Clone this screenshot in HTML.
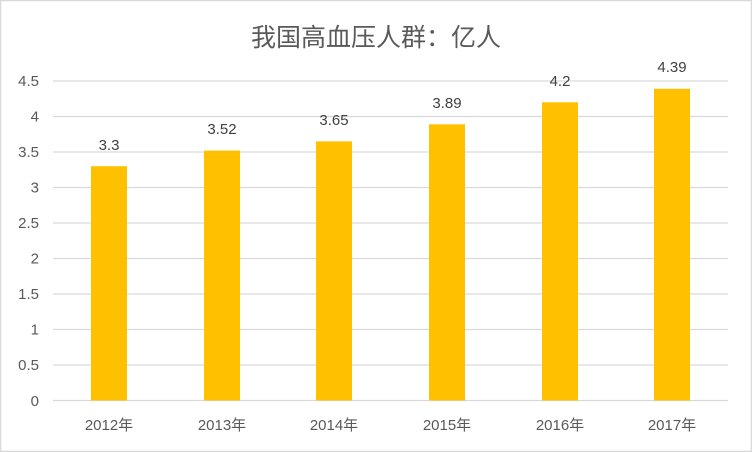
<!DOCTYPE html>
<html><head><meta charset="utf-8"><style>
html,body{margin:0;padding:0;background:#fff}
svg{display:block}
text{font-family:"Liberation Sans","Noto Sans CJK SC",sans-serif}
</style></head><body>
<svg width="752" height="452" xmlns="http://www.w3.org/2000/svg">
<rect x="0.5" y="0.5" width="751" height="451" fill="#fff" stroke="#d9d9d9" stroke-width="1.5"/>
<text x="376" y="46" text-anchor="middle" font-size="25" fill="#595959">我国高血压人群：亿人</text>
<g stroke="#d9d9d9" stroke-width="1.3">
<line x1="53" x2="728" y1="81" y2="81"/>
<line x1="53" x2="728" y1="116.5" y2="116.5"/>
<line x1="53" x2="728" y1="152" y2="152"/>
<line x1="53" x2="728" y1="187.5" y2="187.5"/>
<line x1="53" x2="728" y1="223" y2="223"/>
<line x1="53" x2="728" y1="258.5" y2="258.5"/>
<line x1="53" x2="728" y1="294" y2="294"/>
<line x1="53" x2="728" y1="329.5" y2="329.5"/>
<line x1="53" x2="728" y1="365" y2="365"/>
<line x1="53" x2="728" y1="400.5" y2="400.5"/>
</g>
<g font-size="15" fill="#595959" text-anchor="end">
<text x="39" y="86">4.5</text><text x="39" y="121.5">4</text><text x="39" y="157">3.5</text>
<text x="39" y="192.5">3</text><text x="39" y="228">2.5</text><text x="39" y="263.5">2</text>
<text x="39" y="299">1.5</text><text x="39" y="334.5">1</text><text x="39" y="370">0.5</text>
<text x="39" y="406">0</text>
</g>
<g fill="#ffc000">
<rect x="91" y="166.2" width="36" height="234.3"/>
<rect x="204" y="150.6" width="36" height="249.9"/>
<rect x="316" y="141.4" width="36" height="259.1"/>
<rect x="429" y="124.3" width="36" height="276.2"/>
<rect x="542" y="102.3" width="36" height="298.2"/>
<rect x="654" y="88.8" width="36" height="311.7"/>
</g>
<g font-size="15" fill="#404040" text-anchor="middle">
<text x="109" y="150">3.3</text>
<text x="222" y="134">3.52</text>
<text x="334" y="125">3.65</text>
<text x="447" y="108">3.89</text>
<text x="560" y="86">4.2</text>
<text x="672" y="72">4.39</text>
</g>
<g font-size="15" fill="#595959" text-anchor="middle">
<text x="109" y="430">2012年</text>
<text x="222" y="430">2013年</text>
<text x="334" y="430">2014年</text>
<text x="447" y="430">2015年</text>
<text x="560" y="430">2016年</text>
<text x="672" y="430">2017年</text>
</g>
</svg>
</body></html>
